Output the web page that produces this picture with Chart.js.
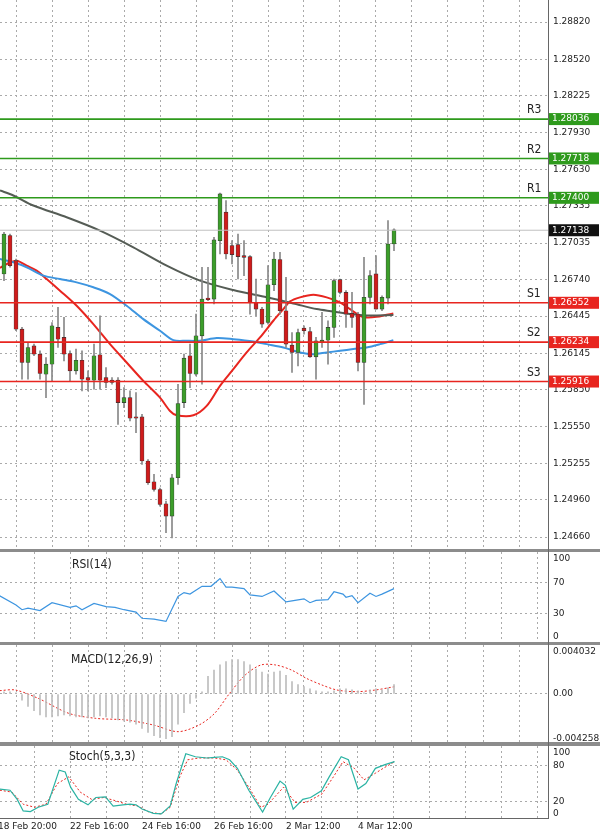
<!DOCTYPE html><html><head><meta charset="utf-8">
<script src="https://cdn.jsdelivr.net/npm/chart.js@4"></script>
<style>
body{margin:0;background:#fff;width:600px;height:837px;position:relative;overflow:hidden}
.c{position:absolute;left:0;width:600px}
.sep{position:absolute;left:0;width:600px;background:#8c8c8c}
.lbl{position:absolute;font:12px 'DejaVu Sans Condensed','DejaVu Sans',sans-serif;color:#222}
</style></head><body>
<div class="c" style="top:0;height:550px"><canvas id="main"></canvas></div>
<div class="c" style="top:552px;height:90px"><canvas id="rsi"></canvas></div>
<div class="c" style="top:645px;height:97px"><canvas id="macd"></canvas></div>
<div class="c" style="top:746px;height:91px"><canvas id="stoch"></canvas></div>
<div class="sep" style="top:549px;height:3px"></div>
<div class="sep" style="top:642px;height:3px"></div>
<div class="sep" style="top:742px;height:4px"></div>
<div style="position:absolute;left:548px;top:0;width:1px;height:818px;background:#666"></div>
<div style="position:absolute;left:0;top:818px;width:549px;height:1px;background:#666"></div>
<div class="lbl" style="left:72px;top:557px">RSI(14)</div>
<div class="lbl" style="left:71px;top:652px">MACD(12,26,9)</div>
<div class="lbl" style="left:69px;top:749px">Stoch(5,3,3)</div>
<script>
const candleOpen=[1.26785,1.27095,1.26892,1.26339,1.2607,1.26204,1.26137,1.25975,1.26056,1.26353,1.26272,1.26142,1.26002,1.26088,1.25948,1.25927,1.26132,1.25948,1.25927,1.25927,1.25746,1.25786,1.2563,1.2563,1.25274,1.25106,1.25044,1.24928,1.24829,1.25139,1.25746,1.26124,1.25975,1.26285,1.2659,1.26582,1.27054,1.27284,1.27014,1.27022,1.26933,1.26925,1.26555,1.26501,1.26393,1.26698,1.26901,1.26488,1.2621,1.26151,1.26347,1.2632,1.26115,1.26231,1.2625,1.26353,1.26739,1.26636,1.26466,1.26461,1.2607,1.26596,1.26785,1.26501,1.2659,1.27027];
const candleHigh=[1.27122,1.27108,1.26906,1.26353,1.26231,1.26218,1.26164,1.2611,1.26393,1.26515,1.26434,1.26164,1.26178,1.26164,1.26002,1.26218,1.26447,1.26029,1.25948,1.25948,1.25867,1.2584,1.25827,1.2565,1.25285,1.25166,1.25055,1.2495,1.25166,1.25894,1.26137,1.26218,1.26461,1.26839,1.26839,1.27081,1.27438,1.27378,1.27054,1.27108,1.27054,1.26933,1.26744,1.26515,1.26852,1.2696,1.2696,1.26758,1.26312,1.26339,1.26366,1.26353,1.26272,1.26474,1.26407,1.26744,1.26744,1.2665,1.26636,1.26474,1.26919,1.26812,1.26933,1.26609,1.27216,1.27149];
const candleLow=[1.26731,1.26839,1.26326,1.25935,1.25935,1.26124,1.25935,1.25786,1.25921,1.26191,1.26083,1.25921,1.25975,1.2584,1.2584,1.25854,1.25854,1.25867,1.25894,1.2557,1.25705,1.25597,1.25503,1.25247,1.25085,1.2503,1.2491,1.24694,1.24653,1.25085,1.25705,1.25867,1.25962,1.25894,1.2657,1.26542,1.26946,1.26906,1.26865,1.26744,1.26771,1.26461,1.26447,1.26353,1.2638,1.2665,1.26461,1.26191,1.25989,1.26043,1.26299,1.2611,1.25935,1.26191,1.26056,1.26272,1.26623,1.26353,1.26353,1.26002,1.25732,1.26542,1.26501,1.26488,1.26542,1.26973];
const candleClose=[1.27108,1.26852,1.26339,1.2607,1.26191,1.26137,1.25981,1.26056,1.26366,1.26258,1.26137,1.26002,1.26088,1.25935,1.25927,1.26124,1.25927,1.25908,1.25908,1.25746,1.25786,1.25619,1.25619,1.25274,1.25098,1.25044,1.24923,1.24829,1.25139,1.25738,1.26105,1.25981,1.26285,1.26582,1.26577,1.2706,1.27432,1.26946,1.26941,1.26925,1.26919,1.26555,1.26501,1.2638,1.26698,1.26906,1.26488,1.26218,1.26151,1.26312,1.26326,1.26115,1.26245,1.2625,1.26353,1.26731,1.26636,1.26461,1.26434,1.2607,1.26596,1.26771,1.26501,1.26596,1.27027,1.27141];
const maFastX=[-0.67,0.44,2.11,3.78,5.44,7.11,9.33,12.11,14.89,17.67,20.44,23.22,26,27.67,28.78,31.56,33.78,36,38.22,40.44,42.67,44.89,46.56,47.67,49.33,51.56,53.78,56,57.67,59.33,60.44,62.11,63.78,64.89];
const maFastY=[1.26833,1.26865,1.26892,1.26852,1.26812,1.26744,1.2665,1.26528,1.2638,1.26218,1.2607,1.25921,1.25786,1.25678,1.25643,1.25643,1.25719,1.25881,1.26016,1.26151,1.26272,1.26407,1.26501,1.26563,1.26596,1.26617,1.26596,1.26555,1.26501,1.26447,1.26434,1.26439,1.26455,1.26466];
const maMidX=[-0.67,1.56,3.78,6.56,9.33,12.11,14.89,17.67,20.44,23.22,26,28.22,30.44,32.67,35.44,38.22,41.56,43.78,46.56,49.33,51.56,53.78,56,58.22,60.44,62.67,64.89];
const maMidY=[1.26906,1.26879,1.26839,1.26771,1.26744,1.26717,1.26677,1.26623,1.26528,1.2642,1.26326,1.2625,1.26245,1.26245,1.26267,1.26258,1.2624,1.26218,1.26191,1.26151,1.26137,1.26151,1.26164,1.26178,1.26191,1.26218,1.2625];
const maSlowX=[-0.67,1.56,4.89,10.44,16,21.56,27.11,32.67,38.22,43.78,48.22,52.11,54.89,57.67,60.44,64.89];
const maSlowY=[1.27459,1.27419,1.27338,1.27243,1.27135,1.27,1.26852,1.26731,1.26655,1.26596,1.26547,1.26501,1.26482,1.26461,1.2645,1.26453];
const levelNames=['R3','R2','R1','S1','S2','S3'];
const levelValues=[1.28036,1.27718,1.27400,1.26552,1.26234,1.25916];
const currentPrice=1.27138;
const mainTicks=[1.28820,1.28520,1.28225,1.27930,1.27630,1.27335,1.27035,1.26740,1.26445,1.26145,1.25850,1.25550,1.25255,1.24960,1.24660];
const rsiX=[-1,2,3,4,6,8,11,12,13,15,17,18.5,20,22,23,25,27,29,30,31,33,34.5,36,37,38,40,41,43,45,46,47,48.5,50,51,52,54,55,56.5,57,58,59,61,62,63,65];
const rsiY=[54,41,35,37,34,44,38,40,35,43,39,38,35,32,24,23,20,52,57,55,65,65,75,64,64,62,54,52,59,52,45,47,49,44,47,48,58,55,51,53,44,56,52,55,62];
const macdHist=[0.0002,0.0002,0.0001,-0.0006,-0.0012,-0.0016,-0.002,-0.0022,-0.0022,-0.0021,-0.002,-0.0021,-0.0022,-0.0022,-0.0023,-0.0022,-0.0021,-0.0022,-0.0023,-0.0025,-0.0026,-0.0027,-0.0029,-0.0033,-0.0037,-0.004,-0.0042,-0.0043,-0.0041,-0.0029,-0.0018,-0.0009,-0.0004,0.0002,0.0017,0.0023,0.0028,0.0031,0.0033,0.0033,0.0031,0.0028,0.0024,0.0021,0.0019,0.0021,0.0022,0.0018,0.0012,0.0009,0.0007,0.0005,0.0003,0.0002,0.0002,0.0003,0.0005,0.0005,0.0004,0.0003,0.0001,0.0004,0.0005,0.0004,0.0006,0.0009];
const macdSigX=[-0.7,1.9,5.7,10.8,15.3,20.4,24.9,29,32.5,35.1,37.6,40.2,42.8,45.3,47.9,50.4,53,55.5,58.7,61.9,65.1];
const macdSigY=[0.00032,0.00038,-0.00042,-0.00186,-0.00234,-0.0025,-0.00298,-0.00362,-0.00298,-0.00186,0.00006,0.00182,0.00278,0.00278,0.0023,0.0015,0.00086,0.00038,0.00022,0.00038,0.0007];
const stochKX=[-0.7,1,2.2,3.2,4.4,5.7,7.3,9.2,10.2,11.1,12.4,14,15.3,16.9,18.2,19.8,21,22,23,24.9,26.2,27.7,28.7,30.3,31.9,33.8,35.1,36.4,37.6,38.9,40.8,43.1,44.4,46,46.9,48.2,49.8,51.1,52.9,54.2,56.2,57.4,59,60.3,61.9,63.5,65.1];
const stochKY=[41,39,24,5,4,11,16,72,69,44,24,15,27,28,13,15,16,15,8,1,0,13,50,99,94,92,93,94,89,75,39,3,27,54,47,8,24,27,38,61,94,89,41,50,75,81,86];
const stochDX=[-0.7,1.3,3.2,5.1,7,8.9,10.8,12.7,14.6,16.6,18.5,20.4,22.3,24.2,26.2,27.7,29.3,30.6,32.5,35.1,37,38.9,40.8,42.8,44,46.6,48.5,50.4,53,54.9,56.5,58.4,60,61.9,63.2,65.1];
const stochDY=[39,36,16,11,16,50,61,36,24,27,22,16,13,3,0,11,61,89,92,92,89,72,44,11,16,44,19,19,33,61,86,75,56,67,75,86];
const gridIdx=[];for(let k=-1;k<=89;k+=6)gridIdx.push(k);
const dateLabels={'-1':'18 Feb 20:00','11':'22 Feb 16:00','23':'24 Feb 16:00','35':'26 Feb 16:00','47':'2 Mar 12:00','59':'4 Mar 12:00'};

const FONT={family:"'DejaVu Sans',sans-serif",size:9};
function xScale(bottom){
  return {type:'linear',min:-0.667,max:90.667,offset:false,
    afterBuildTicks:s=>{s.ticks=gridIdx.map(v=>({value:v}));},
    afterFit:s=>{s.height=bottom?18:0;s.paddingLeft=0;s.paddingRight=0;},
    ticks:{display:!!bottom,autoSkip:false,maxRotation:0,align:'start',padding:2,color:'#222',font:FONT,
      callback:v=>dateLabels[String(v)]||''},
    grid:{color:'#aaa',drawTicks:false,lineWidth:1},border:{display:false,dash:[2,3]}};
}
function yScale(min,max,ticks,fmt,gridVals){
  return {position:'right',min,max,
    afterBuildTicks:s=>{s.ticks=ticks.map(v=>({value:v}));},
    afterFit:s=>{s.width=52;s.paddingTop=0;s.paddingBottom=0;},
    ticks:{padding:5,color:'#222',font:FONT,crossAlign:'near',callback:fmt},
    grid:{drawTicks:false,color:c=>(gridVals&&!gridVals.includes(c.tick.value))?'rgba(0,0,0,0)':'#aaa'},
    border:{display:false,dash:[2,3]}};
}
const baseOpts={responsive:true,maintainAspectRatio:false,animation:false,
  layout:{padding:0},plugins:{legend:{display:false},tooltip:{enabled:false}}};
const pts=(xs,ys)=>xs.map((x,i)=>({x,y:ys[i]}));

const levelPlugin={id:'levels',afterDatasetsDraw(chart){
  const ctx=chart.ctx,y=chart.scales.y,a=chart.chartArea;
  ctx.save();
  const drawBox=(v,bg,txt)=>{const p=y.getPixelForValue(v);
    ctx.fillStyle=bg;ctx.fillRect(a.right+1,p-6,50,12);
    ctx.fillStyle='#fff';ctx.font="9px 'DejaVu Sans'";ctx.textBaseline='middle';ctx.textAlign='left';
    ctx.fillText(txt,a.right+4,p);};
  let p=y.getPixelForValue(currentPrice);
  ctx.strokeStyle='#c0c0c0';ctx.lineWidth=1;ctx.beginPath();ctx.moveTo(a.left,p);ctx.lineTo(a.right,p);ctx.stroke();
  levelValues.forEach((v,i)=>{const isR=levelNames[i][0]==='R';
    const col=isR?'#2e9a1c':'#e8251f';const q=y.getPixelForValue(v);
    ctx.strokeStyle=col;ctx.lineWidth=1.6;ctx.beginPath();ctx.moveTo(a.left,q);ctx.lineTo(a.right,q);ctx.stroke();
    ctx.fillStyle='#222';ctx.font="12px 'DejaVu Sans Condensed','DejaVu Sans'";ctx.textAlign='left';ctx.textBaseline='bottom';
    ctx.fillText(levelNames[i],a.right-21,q-3);
    drawBox(v,col,v.toFixed(5));});
  drawBox(currentPrice,'#111',currentPrice.toFixed(5));
  ctx.restore();}};

const idx=candleOpen.map((_,i)=>i);
const bodyCol=idx.map(i=>candleClose[i]>=candleOpen[i]?'#3c9e2a':'#cf1c1c');
new Chart(document.getElementById('main'),{
  data:{datasets:[
    {type:'line',data:pts(maSlowX,maSlowY),borderColor:'#555c55',borderWidth:2,pointRadius:0,tension:0.3,order:3},
    {type:'line',data:pts(maMidX,maMidY),borderColor:'#3d95e0',borderWidth:2,pointRadius:0,tension:0.3,order:3},
    {type:'line',data:pts(maFastX,maFastY),borderColor:'#e8251f',borderWidth:2,pointRadius:0,tension:0.3,order:3},
    {type:'bar',data:idx.map(i=>({x:i,y:[candleLow[i],candleHigh[i]]})),backgroundColor:'#888',barThickness:1,grouped:false,order:2},
    {type:'bar',data:idx.map(i=>({x:i,y:[candleOpen[i],candleClose[i]]})),backgroundColor:bodyCol,borderColor:'#333',borderWidth:0.6,borderSkipped:false,barThickness:4,minBarLength:1,grouped:false,order:1}
  ]},
  options:{...baseOpts,scales:{x:xScale(false),y:yScale(1.24555,1.28998,mainTicks,v=>v.toFixed(5))}},
  plugins:[levelPlugin]});

new Chart(document.getElementById('rsi'),{
  data:{datasets:[{type:'line',data:pts(rsiX,rsiY),borderColor:'#3d95e0',borderWidth:1.2,pointRadius:0}]},
  options:{...baseOpts,scales:{x:xScale(false),y:yScale(-6.4,109,[100,70,30,0],v=>String(v),[70,30])}}});

new Chart(document.getElementById('macd'),{
  data:{datasets:[
    {type:'bar',data:idx.map(i=>({x:i,y:macdHist[i]})),backgroundColor:'#bdbdbd',barThickness:1,grouped:false},
    {type:'line',data:pts(macdSigX,macdSigY),borderColor:'#e8251f',borderWidth:1,borderDash:[2,2],pointRadius:0,tension:0.3}]},
  options:{...baseOpts,scales:{x:xScale(false),y:yScale(-0.00461,0.0047,[0.004032,0,-0.004258],v=>v===0?'0.00':String(v),[0])}}});

new Chart(document.getElementById('stoch'),{
  data:{datasets:[
    {type:'line',data:pts(stochKX,stochKY),borderColor:'#2ab3a3',borderWidth:1.2,pointRadius:0},
    {type:'line',data:pts(stochDX,stochDY),borderColor:'#e8251f',borderWidth:1,borderDash:[2,2],pointRadius:0}]},
  options:{...baseOpts,scales:{x:xScale(true),y:yScale(-8.3,111.7,[100,80,20,0],v=>String(v),[80,20])}}});
</script></body></html>
